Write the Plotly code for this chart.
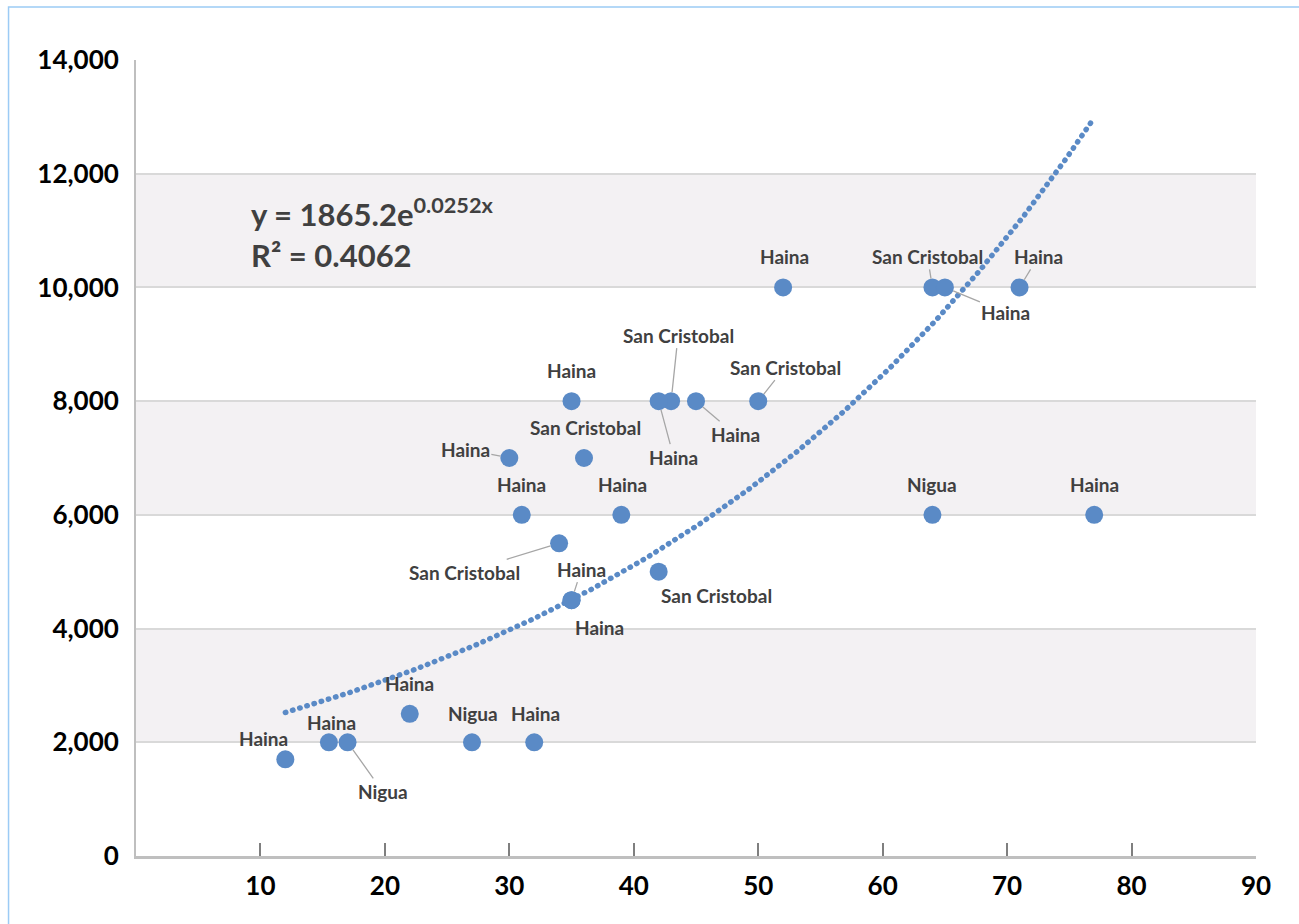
import numpy as np
import plotly.graph_objects as go

# ---- data ----
x_vals = [12, 15.5, 17, 22, 27, 32, 35, 35, 34, 31, 39, 42, 30, 36, 35, 43, 42, 45, 50, 52, 64, 65, 71, 64, 77]
y_vals = [1700, 2000, 2000, 2500, 2000, 2000, 4500, 4500, 5500, 6000, 6000, 5000, 7000, 7000, 8000, 8000,
          8000, 8000, 8000, 10000, 10000, 10000, 10000, 6000, 6000]
point_labels = ["Haina", "Haina", "Nigua", "Haina", "Nigua", "Haina", "Haina", "Haina", "San Cristobal",
                "Haina", "Haina", "San Cristobal", "Haina", "San Cristobal", "Haina", "San Cristobal",
                "Haina", "Haina", "San Cristobal", "Haina", "San Cristobal", "Haina", "Haina", "Nigua", "Haina"]

# trendline as displayed on the chart: y = a * e^(b x)
trend_a = 1865.2
trend_b = 0.0252
r_squared = 0.4062

x_ticks = [10, 20, 30, 40, 50, 60, 70, 80, 90]
y_ticks = [0, 2000, 4000, 6000, 8000, 10000, 12000, 14000]

# ---- label placement (pixel offsets of label centre from its point) and leader flags ----
label_offsets = [(-22, -21), (3, -20), (35, 49), (0, -30), (1, -29), (1, -29), (10, -31), (28, 27),
                 (-95, 29), (0, -30), (1, -30), (58, 24), (-44, -9), (1, -31), (0, -31), (7, -66),
                 (15, 56), (39, 33), (27, -34), (1, -31), (-5, -31), (61, 25), (19, -31), (0, -30), (0, -30)]
leader = [False, False, True, False, False, False, True, False, True, False, False, False, True, False,
          False, True, True, True, True, False, True, True, True, False, False]

BLUE = "#5A8AC6"
FONT = "Lato"

fig = go.Figure()

# trendline
tx = np.linspace(min(x_vals), max(x_vals), 300)
ty = trend_a * np.exp(trend_b * tx)
fig.add_trace(go.Scatter(x=tx, y=ty, mode="lines",
                         line=dict(color=BLUE, width=5.4, dash="0.5px,7px"),
                         hoverinfo="skip", showlegend=False))

# data points
fig.add_trace(go.Scatter(x=x_vals, y=y_vals, mode="markers",
                         marker=dict(color=BLUE, size=18, line=dict(width=0)),
                         text=point_labels, showlegend=False))

annotations = []
for xv, yv, lab, (dx, dy), ld in zip(x_vals, y_vals, point_labels, label_offsets, leader):
    annotations.append(dict(
        x=xv, y=yv, xref="x", yref="y", text=lab, showarrow=True,
        ax=dx, ay=dy, axref="pixel", ayref="pixel",
        arrowhead=0, arrowwidth=1.3 if ld else 0.1,
        arrowcolor="#A6A6A6" if ld else "rgba(0,0,0,0)", standoff=9,
        font=dict(family=FONT, size=19, color="#404040", weight="bold")))

# equation + R²
annotations.append(dict(x=0.1005, y=0.808, xref="paper", yref="paper", xanchor="left", yanchor="middle",
                        text=f"y = {trend_a}e<sup>{trend_b}x</sup>", showarrow=False,
                        font=dict(family=FONT, size=31, color="#404040", weight="bold")))
annotations.append(dict(x=0.1005, y=0.755, xref="paper", yref="paper", xanchor="left", yanchor="middle",
                        text=f"R² = {r_squared}", showarrow=False,
                        font=dict(family=FONT, size=31, color="#404040", weight="bold")))

# alternating bands between gridlines
shapes = []
for i in range(1, len(y_ticks) - 1, 2):
    shapes.append(dict(type="rect", xref="paper", yref="y", x0=0, x1=1, y0=y_ticks[i], y1=y_ticks[i + 1],
                       fillcolor="#F3F1F3", line=dict(width=0), layer="below"))
# outer chart border
shapes.append(dict(type="rect", xref="paper", yref="paper", x0=-0.1138, x1=1.06, y0=-0.12, y1=1.0666,
                   line=dict(color="#9CCBF5", width=1.5), fillcolor="rgba(0,0,0,0)", layer="above"))

fig.update_layout(
    width=1299, height=924,
    margin=dict(l=136, r=43, t=60, b=68),
    paper_bgcolor="white", plot_bgcolor="white",
    annotations=annotations, shapes=shapes,
    showlegend=False,
    font=dict(family=FONT),
)
fig.update_xaxes(range=[0, 90], tickvals=x_ticks, showgrid=False, zeroline=False,
                 showline=True, linecolor="#BFBFBF", linewidth=3,
                 ticks="inside", ticklen=13, tickcolor="#7F7F7F", tickwidth=1.5,
                 tickfont=dict(family=FONT, size=26, color="black", weight="bold"),
                 ticklabelstandoff=5)
fig.update_yaxes(range=[0, 14000], tickvals=y_ticks, tickformat=",", showgrid=True,
                 gridcolor="#D9D9D9", gridwidth=2, zeroline=False,
                 showline=True, linecolor="#BFBFBF", linewidth=2, ticks="",
                 tickfont=dict(family=FONT, size=26, color="black", weight="bold"),
                 ticklabelstandoff=10)

post = """
var gd = document.getElementById('{plot_id}');
function roundCaps(){
  document.querySelectorAll('path.js-line').forEach(function(p){ p.style.strokeLinecap = 'round'; });
}
roundCaps();
if (gd && gd.on) { gd.on('plotly_afterplot', roundCaps); }
document.body.style.margin = '0';
"""
fig.write_html("out.html", post_script=post, config={"displayModeBar": False})
